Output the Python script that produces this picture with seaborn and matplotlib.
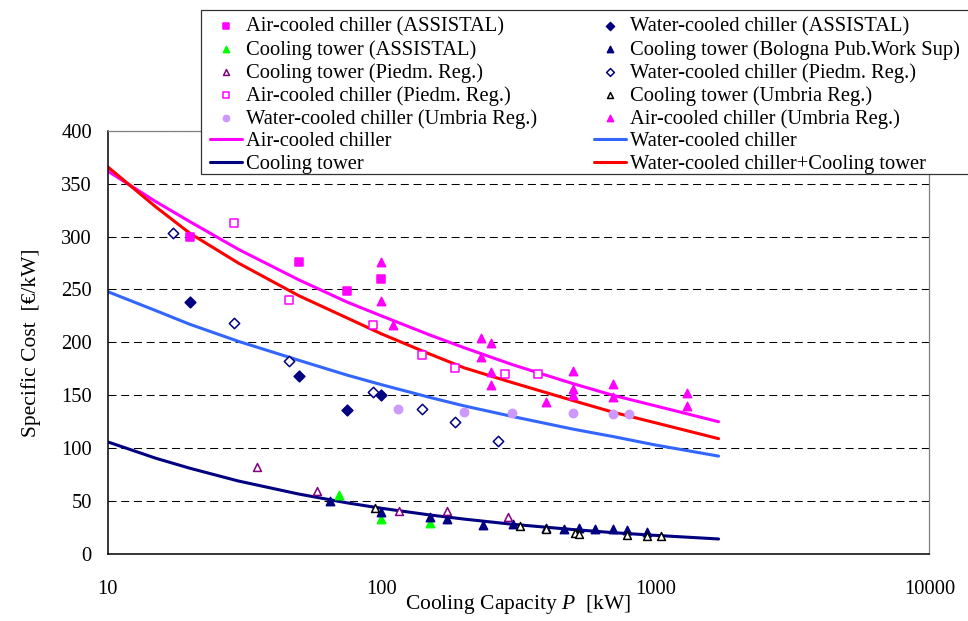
import matplotlib
matplotlib.use("Agg")
import matplotlib.pyplot as plt
import seaborn as sns
from matplotlib.patches import Rectangle
from matplotlib.ticker import LogLocator, MultipleLocator, NullFormatter

# ---- measured data: cooling capacity P [kW] and specific cost [EUR/kW] ----
air_assistal_p = [20, 50, 75, 100]
air_assistal_c = [300, 276, 249, 260]

water_assistal_p = [20, 50, 75, 100]
water_assistal_c = [238, 168, 136, 150]

tower_assistal_p = [70, 100, 150]
tower_assistal_c = [56, 33, 29]

tower_bologna_p = [65, 100, 150, 174, 234, 303, 400, 465, 525, 600, 700, 790, 930]
tower_bologna_c = [50, 40, 35, 33, 27, 28, 25, 24, 25, 24, 24, 23, 21]

tower_piedm_p = [35, 58, 116, 174, 290]
tower_piedm_c = [82, 60, 41, 41, 35]

water_piedm_p = [17.3, 29, 46, 93, 140, 185, 267]
water_piedm_c = [303, 218, 182, 153, 137, 125, 107]

air_piedm_p = [29, 46, 93, 140, 185, 283, 372]
air_piedm_c = [313, 240, 216, 188, 176, 170, 170]

tower_umbria_p = [95, 320, 400, 510, 525, 790, 930, 1050]
tower_umbria_c = [43, 26, 24, 20, 19, 18, 17, 17]

water_umbria_p = [115, 200, 300, 500, 700, 800]
water_umbria_c = [137, 134, 133, 133, 132, 132]

air_umbria_p = [100, 100, 110, 230, 230, 250, 250, 250, 400, 500, 500, 500, 700, 700, 1300, 1300]
air_umbria_c = [276, 239, 216, 204, 186, 199, 172, 160, 144, 173, 156, 150, 161, 148, 152, 140]

# ---- trend curves ----
curve_p = [10, 15, 20, 30, 50, 75, 100, 150, 200, 300, 500, 700, 1000, 1700]
air_curve = [362, 333, 314, 288, 259, 238, 225, 207, 195, 179, 161, 150, 140, 125]
water_curve = [248, 230, 217, 201, 183, 169, 160, 148, 140, 130, 118, 111, 103, 92.5]
tower_curve = [106, 90.5, 81, 69, 56.6, 48.3, 43.2, 36.9, 33, 28.1, 23.1, 20.2, 17.6, 14.2]
water_tower_curve = [366, 328, 303, 275, 244, 223, 208, 189, 176, 162, 145, 134, 124, 109]

x_ticks = [10, 100, 1000, 10000]
x_tick_labels = ["10", "100", "1000", "10000"]
y_ticks = [0, 50, 100, 150, 200, 250, 300, 350, 400]

MAGENTA = "#FF00FF"
NAVY = "#000080"
GREEN = "#00FF00"
PURPLE = "#800080"
LAVENDER = "#CC99FF"
BLUE = "#3366FF"
RED = "#FF0000"

sns.set_theme(style="white")
plt.rcParams["font.family"] = ["Liberation Serif", "DejaVu Serif"]
plt.rcParams["mathtext.fontset"] = "custom"
plt.rcParams["mathtext.it"] = "Liberation Serif:italic"
plt.rcParams["mathtext.rm"] = "Liberation Serif"
FS = 14.8
LABEL_FS = 15.5

W, H = 968, 621
fig = plt.figure(figsize=(W / 100, H / 100), dpi=100)
ax = fig.add_axes([0.1111, 0.1079, 0.8490, 0.6816])

# trend lines
for p, c, col, lab in [
    (curve_p, air_curve, MAGENTA, "Air-cooled chiller"),
    (curve_p, water_curve, BLUE, "Water-cooled chiller"),
    (curve_p, tower_curve, NAVY, "Cooling tower"),
    (curve_p, water_tower_curve, RED, "Water-cooled chiller+Cooling tower"),
]:
    sns.lineplot(x=p, y=c, color=col, linewidth=2.2, ax=ax, label=lab,
                 zorder=2, sort=False)

# measured points: (label, P, cost, marker, face, edge, size)
series = [
    ("Air-cooled chiller (ASSISTAL)", air_assistal_p, air_assistal_c, "s", MAGENTA, MAGENTA, 30),
    ("Water-cooled chiller (ASSISTAL)", water_assistal_p, water_assistal_c, "D", NAVY, NAVY, 30),
    ("Cooling tower (ASSISTAL)", tower_assistal_p, tower_assistal_c, "^", GREEN, GREEN, 36),
    ("Cooling tower (Bologna Pub.Work Sup)", tower_bologna_p, tower_bologna_c, "^", NAVY, NAVY, 36),
    ("Cooling tower (Piedm. Reg.)", tower_piedm_p, tower_piedm_c, "^", "white", PURPLE, 32),
    ("Water-cooled chiller (Piedm. Reg.)", water_piedm_p, water_piedm_c, "D", "white", NAVY, 28),
    ("Air-cooled chiller (Piedm. Reg.)", air_piedm_p, air_piedm_c, "s", "white", MAGENTA, 28),
    ("Cooling tower (Umbria Reg.)", tower_umbria_p, tower_umbria_c, "^", "white", "black", 32),
    ("Water-cooled chiller (Umbria Reg.)", water_umbria_p, water_umbria_c, "o", LAVENDER, LAVENDER, 36),
    ("Air-cooled chiller (Umbria Reg.)", air_umbria_p, air_umbria_c, "^", MAGENTA, MAGENTA, 36),
]
for lab, p, c, m, face, edge, s in series:
    sns.scatterplot(x=p, y=c, marker=m, s=s, color=face, edgecolor=edge,
                    linewidth=1.1, ax=ax, label=lab, zorder=3)

ax.set_xscale("log")
ax.set_xlim(10, 10000)
ax.set_ylim(0, 400)
ax.set_xticks(x_ticks, labels=x_tick_labels)
ax.xaxis.set_minor_locator(LogLocator(base=10, subs=range(2, 10)))
ax.xaxis.set_minor_formatter(NullFormatter())
ax.set_yticks(y_ticks)
ax.yaxis.set_minor_locator(MultipleLocator(10))

ax.grid(False)
ax.yaxis.grid(True, which="major", color="black", linestyle=(0, (7.7, 4.5)), linewidth=0.75)
ax.set_axisbelow(True)

ax.tick_params(axis="x", which="major", direction="inout", length=11, width=1.0,
               color="black", pad=13.5, labelsize=FS, labelcolor="black")
ax.tick_params(axis="x", which="minor", direction="in", length=3.4, width=0.9,
               color="#666666")
ax.tick_params(axis="y", which="major", direction="out", length=5.2, width=1.0,
               color="black", pad=6, labelsize=FS, labelcolor="black")
ax.tick_params(axis="y", which="minor", direction="in", length=4.3, width=0.9,
               color="black")

for side in ("left", "bottom"):
    ax.spines[side].set_color("black")
    ax.spines[side].set_linewidth(1.1)
for side in ("top", "right"):
    ax.spines[side].set_color("#808080")
    ax.spines[side].set_linewidth(0.9)

ax.set_xlabel("Cooling Capacity $P$  [kW]", fontsize=LABEL_FS, color="black")
ax.set_ylabel("Specific Cost  [€/kW]", fontsize=LABEL_FS, color="black")
ax.xaxis.set_label_coords(0.5, -0.093)
ax.yaxis.set_label_coords(-0.081, 0.5)

# legend, filled row by row in two columns
handles, labels = ax.get_legend_handles_labels()
lookup = dict(zip(labels, handles))
if ax.get_legend() is not None:
    ax.get_legend().remove()
row_order = [
    "Air-cooled chiller (ASSISTAL)", "Water-cooled chiller (ASSISTAL)",
    "Cooling tower (ASSISTAL)", "Cooling tower (Bologna Pub.Work Sup)",
    "Cooling tower (Piedm. Reg.)", "Water-cooled chiller (Piedm. Reg.)",
    "Air-cooled chiller (Piedm. Reg.)", "Cooling tower (Umbria Reg.)",
    "Water-cooled chiller (Umbria Reg.)", "Air-cooled chiller (Umbria Reg.)",
    "Air-cooled chiller", "Water-cooled chiller",
    "Cooling tower", "Water-cooled chiller+Cooling tower",
]
col_order = row_order[0::2] + row_order[1::2]

# legend box, drawn over the top of the plot area
box = Rectangle((201 / W, 1 - 174 / H), (980 - 201) / W, (174 - 10) / H,
                transform=fig.transFigure, facecolor="white",
                edgecolor="#333333", linewidth=0.9, zorder=4.5)
fig.patches.append(box)

leg = fig.legend([lookup[l] for l in col_order], col_order, ncol=2,
                 loc="upper left", bbox_to_anchor=(210 / W, 1 - 17.5 / H),
                 bbox_transform=fig.transFigure, borderaxespad=0,
                 frameon=False, fontsize=FS,
                 borderpad=0, labelspacing=0.155, handlelength=1.54,
                 handletextpad=0.21, columnspacing=2.78, markerscale=0.75,
                 scatterpoints=1)
leg.set_zorder(5)
for t in leg.get_texts():
    t.set_color("black")

fig.savefig("out.png", dpi=100)
